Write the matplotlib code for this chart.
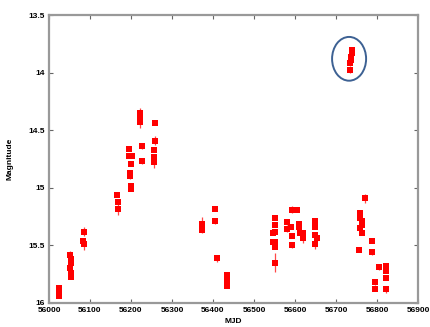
import matplotlib
matplotlib.use("Agg")
import matplotlib.pyplot as plt
from matplotlib.patches import Ellipse

# Light curve points (MJD, magnitude, error)
mjd = [56024, 56024, 56025,
       56052, 56054, 56054, 56052, 56053, 56053,
       56085, 56084, 56086,
       56166, 56168, 56168,
       56195, 56196, 56203, 56201, 56197, 56198, 56199, 56199,
       56223, 56223, 56223, 56228, 56228,
       56259, 56259, 56256, 56256, 56256,
       56372, 56372,
       56405, 56405, 56409, 56434, 56434, 56434,
       56551, 56551, 56547, 56551, 56547, 56551, 56551, 56551,
       56581, 56581, 56593, 56590, 56593, 56593, 56606, 56610, 56610,
       56612, 56619, 56619,
       56650, 56650, 56649, 56653, 56649,
       56772, 56758, 56758, 56763, 56763, 56758, 56763, 56756,
       56789, 56789, 56805, 56795, 56795, 56821, 56821, 56821, 56821,
       56738, 56738, 56737, 56736, 56733, 56733]
mag = [15.87, 15.91, 15.94,
       15.58, 15.62, 15.65, 15.70, 15.74, 15.77,
       15.38, 15.46, 15.49,
       15.06, 15.12, 15.18,
       14.66, 14.72, 14.72, 14.79, 14.87, 14.90, 14.98, 15.01,
       14.35, 14.38, 14.43, 14.64, 14.77,
       14.44, 14.59, 14.67, 14.73, 14.78,
       15.31, 15.37,
       15.18, 15.29, 15.61, 15.76, 15.80, 15.85,
       15.26, 15.32, 15.39, 15.38, 15.47, 15.47, 15.51, 15.65,
       15.30, 15.36, 15.19, 15.34, 15.42, 15.50, 15.19, 15.31, 15.34,
       15.39, 15.39, 15.44,
       15.29, 15.34, 15.41, 15.44, 15.49,
       15.09, 15.22, 15.26, 15.29, 15.32, 15.35, 15.39, 15.54,
       15.46, 15.56, 15.69, 15.82, 15.88, 15.68, 15.72, 15.78, 15.88,
       13.80, 13.83, 13.86, 13.89, 13.92, 13.98]
err = [0.03, 0.02, 0.02,
       0.03, 0.02, 0.02, 0.02, 0.02, 0.02,
       0.04, 0.02, 0.05,
       0.02, 0.02, 0.06,
       0.02, 0.02, 0.02, 0.02, 0.02, 0.02, 0.02, 0.02,
       0.04, 0.02, 0.05, 0.02, 0.02,
       0.01, 0.04, 0.02, 0.02, 0.05,
       0.06, 0.02,
       0.01, 0.02, 0.03, 0.02, 0.02, 0.02,
       0.02, 0.02, 0.02, 0.02, 0.02, 0.02, 0.02, 0.08,
       0.02, 0.02, 0.03, 0.02, 0.02, 0.02, 0.02, 0.02, 0.02,
       0.02, 0.02, 0.04,
       0.02, 0.02, 0.02, 0.02, 0.04,
       0.04, 0.02, 0.02, 0.02, 0.02, 0.02, 0.02, 0.02,
       0.02, 0.02, 0.02, 0.02, 0.02, 0.02, 0.02, 0.02, 0.03,
       0.02, 0.02, 0.02, 0.02, 0.02, 0.02]

# Outburst highlighted with an ellipse (centre MJD, centre mag, width, height)
circle_x, circle_y = 56732, 13.88
circle_w, circle_h = 83, 0.38

xticks = list(range(56000, 56901, 100))
yticks = [13.5, 14, 14.5, 15, 15.5, 16]
ytick_labels = ["13.5", "14", "14.5", "15", "15.5", "16"]

font = {"family": "Liberation Sans", "weight": "bold", "size": 6}

fig = plt.figure(figsize=(4.3, 3.27), dpi=100)
ax = fig.add_axes([0.114, 0.0734, 0.858, 0.8806])

ax.errorbar(mjd, mag, yerr=err, fmt="s", color="red", ms=4.0, mew=0,
            ecolor="#ff4848", elinewidth=0.9, capsize=1.8, capthick=0.9)

ax.add_patch(Ellipse((circle_x, circle_y), circle_w, circle_h, fill=False,
                     edgecolor="#3d6193", lw=1.4))

ax.set_xlim(56000, 56900)
ax.set_ylim(16, 13.5)
ax.set_xticks(xticks)
ax.set_xticklabels([str(t) for t in xticks], fontdict=font)
ax.set_yticks(yticks)
ax.set_yticklabels(ytick_labels, fontdict=font)

for s in ax.spines.values():
    s.set_color("#999999")
    s.set_linewidth(1.6)
ax.tick_params(direction="in", length=3, width=0.8, color="#666666",
               top=True, right=True, pad=3)

ax.set_xlabel("MJD", fontdict=font, labelpad=3)
ax.set_ylabel("Magnitude", fontdict=font, labelpad=11)

fig.savefig("out.png", dpi=100)
